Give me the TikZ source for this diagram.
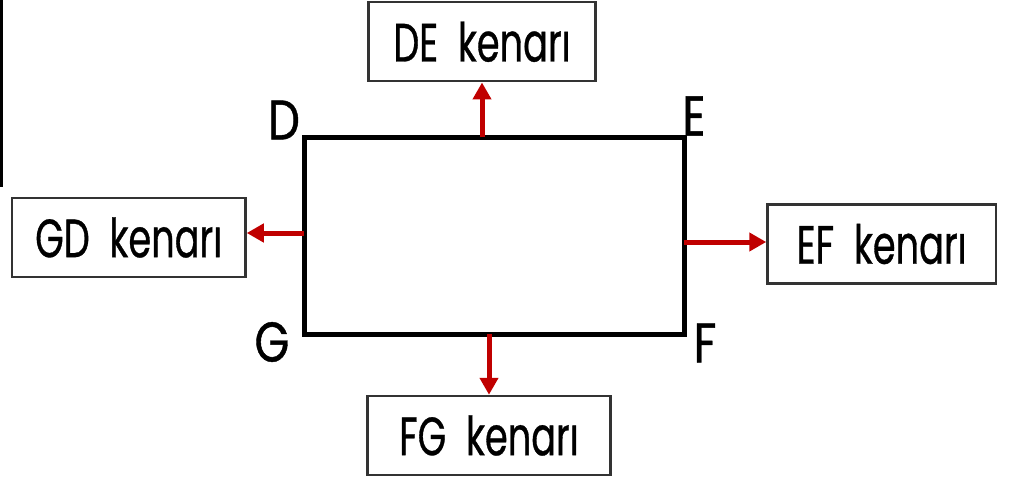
\documentclass[tikz,border=0pt]{standalone}
\usepackage{fontspec}
\setmainfont{Poppins}[FakeStretch=0.68,FakeBold=0.6]
\newfontfamily\cornerfont{Poppins}[FakeStretch=0.8,FakeBold=0.8]
\usetikzlibrary{arrows.meta}

\definecolor{arrowred}{RGB}{192,0,0}
\definecolor{boxgray}{RGB}{51,51,51}

\tikzset{
  sidebox/.style={draw=boxgray, line width=2.5pt, minimum height=79pt, inner sep=0pt,
    font=\fontsize{54}{58}\selectfont},
  cornerlabel/.style={inner sep=0pt, font=\cornerfont\fontsize{56}{60}\selectfont},
  redarrow/.style={draw=arrowred, line width=5pt, -{Triangle[length=17pt,width=18pt,fill=arrowred]}}
}

\begin{document}
\begin{tikzpicture}[x=1pt,y=-1pt]
\useasboundingbox (0,0) rectangle (1017,481);
% left edge line
\draw[line width=3pt] (1.5,0) -- (1.5,187);

% Rectangle DEFG
\coordinate (D) at (304,137.5);
\coordinate (E) at (684,137.5);
\coordinate (F) at (684,334);
\coordinate (G) at (304,334);
\draw[line width=5pt] (D) -- (E) -- (F) -- (G) -- cycle;
\node[cornerlabel] (labD) at (284,120) {D};
\node[cornerlabel] (labE) at (694,116) {E};
\node[cornerlabel] (labF) at (705,343) {F};
\node[cornerlabel] (labG) at (272,342) {G};

% Side boxes
\node[sidebox, minimum width=227pt] (de) at (482,41.75) {DE\hspace{10pt} kenarı};
\node[sidebox, minimum width=233.5pt] (gd) at (128.75,237.5) {GD\hspace{10pt} kenarı};
\node[sidebox, minimum width=228.5pt] (ef) at (881.75,244) {EF\hspace{10pt} kenarı};
\node[sidebox, minimum width=243pt] (fg) at (489,435.5) {FG\hspace{10pt} kenarı\hspace{16pt}};

% Arrows
\draw[redarrow] (de.south |- D) -- (de.south);
\draw[redarrow] (G |- 0,233) -- (gd.east |- 0,233);
\draw[redarrow] (F |- 0,242) -- (ef.west |- 0,242);
\draw[redarrow] (fg.north |- G) -- (fg.north);
\end{tikzpicture}
\end{document}
